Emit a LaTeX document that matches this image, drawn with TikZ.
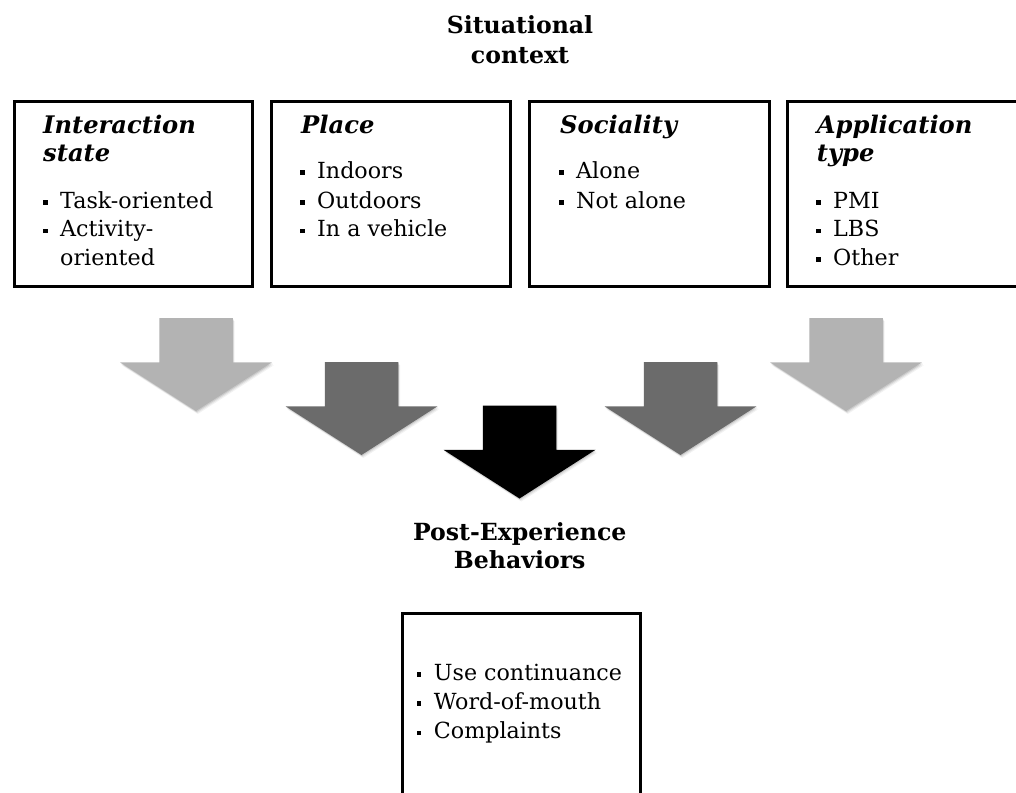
\documentclass[tikz,border=0pt]{standalone}
\usepackage{fontspec}
\setmainfont{DejaVu Serif}
\definecolor{arrlight}{HTML}{B3B3B3}
\definecolor{arrdark}{HTML}{6B6B6B}
\newcommand\bsq{\makebox[17pt][l]{\raisebox{3.5pt}{\rule{4.5pt}{4.5pt}}}}
\tikzset{
  frame/.style={draw=black, line width=3pt, inner sep=0pt, anchor=north west},
  txt/.style={anchor=base west, inner sep=0pt, font=\fontsize{22.2}{26}\selectfont},
  ttl/.style={anchor=base west, inner sep=0pt, font=\fontsize{24.2}{28}\selectfont\bfseries\itshape},
  headtxt/.style={anchor=base, inner sep=0pt, font=\fontsize{23.6}{28}\selectfont\bfseries},
  pics/dnarr/.style={code={
    \foreach \d/\o in {1/0.10,2/0.07,3/0.05}{
      \fill[black, opacity=\o, shift={(0.6*\d,\d)}]
        (-36.75,0) -- (36.75,0) -- (36.75,44.3) -- (76,44.3) -- (0,93) -- (-76,44.3) -- (-36.75,44.3) -- cycle;
    }
    \fill[#1] (-36.75,0) -- (36.75,0) -- (36.75,44.3) -- (76,44.3) -- (0,93) -- (-76,44.3) -- (-36.75,44.3) -- cycle;
  }}
}
\begin{document}
\begin{tikzpicture}[x=1pt,y=-1pt]
\useasboundingbox (0,0) rectangle (1016,792);
\clip (0,0) rectangle (1016,792);

% heading
\node[headtxt] (h1a) at (520,33.3) {Situational};
\node[headtxt] (h1b) at (520,63.3) {context};

% boxes
\node[frame, minimum width=238.3pt, minimum height=185.4pt] (b1) at (12.5,99.8) {};
\node[frame, minimum width=238.3pt, minimum height=185.4pt] (b2) at (270.2,99.8) {};
\node[frame, minimum width=239.6pt, minimum height=185.4pt] (b3) at (528.2,99.8) {};
\node[frame, minimum width=240pt, minimum height=185.4pt] (b4) at (785.8,99.8) {};

% box 1
\node[ttl] (t1a) at (43,133) {Interaction};
\node[ttl] (t1b) at (43,161.7) {state};
\node[txt] (i1a) at (43,208) {\bsq Task-oriented};
\node[txt] (i1b) at (43,236.7) {\bsq Activity-};
\node[txt] (i1c) at (60,265) {oriented};

% box 2
\node[ttl] (t2a) at (301,133) {Place};
\node[txt] (i2a) at (300,178) {\bsq Indoors};
\node[txt] (i2b) at (300,208.3) {\bsq Outdoors};
\node[txt] (i2c) at (300,236.7) {\bsq In a vehicle};

% box 3
\node[ttl] (t3a) at (560,133) {Sociality};
\node[txt] (i3a) at (559,178) {\bsq Alone};
\node[txt] (i3b) at (559,208) {\bsq Not alone};

% box 4
\node[ttl] (t4a) at (816.7,133) {Application};
\node[ttl] (t4b) at (816.7,161.7) {type};
\node[txt] (i4a) at (816,208) {\bsq PMI};
\node[txt] (i4b) at (816,236.7) {\bsq LBS};
\node[txt] (i4c) at (816,265) {\bsq Other};

% arrows
\pic at (196,318) {dnarr=arrlight};
\pic at (361.5,362) {dnarr=arrdark};
\pic at (519.5,405.5) {dnarr=black};
\pic at (680.5,362) {dnarr=arrdark};
\pic at (846,318) {dnarr=arrlight};

% outcome
\node[headtxt] (h2a) at (519.7,540) {Post-Experience};
\node[headtxt] (h2b) at (519.7,568.3) {Behaviors};
\node[frame, minimum width=238.4pt, minimum height=200pt] (b5) at (400.8,611.5) {};
\node[txt] (i5a) at (416.7,680) {\bsq Use continuance};
\node[txt] (i5b) at (416.7,709.3) {\bsq Word-of-mouth};
\node[txt] (i5c) at (416.7,738.5) {\bsq Complaints};
\end{tikzpicture}
\end{document}
